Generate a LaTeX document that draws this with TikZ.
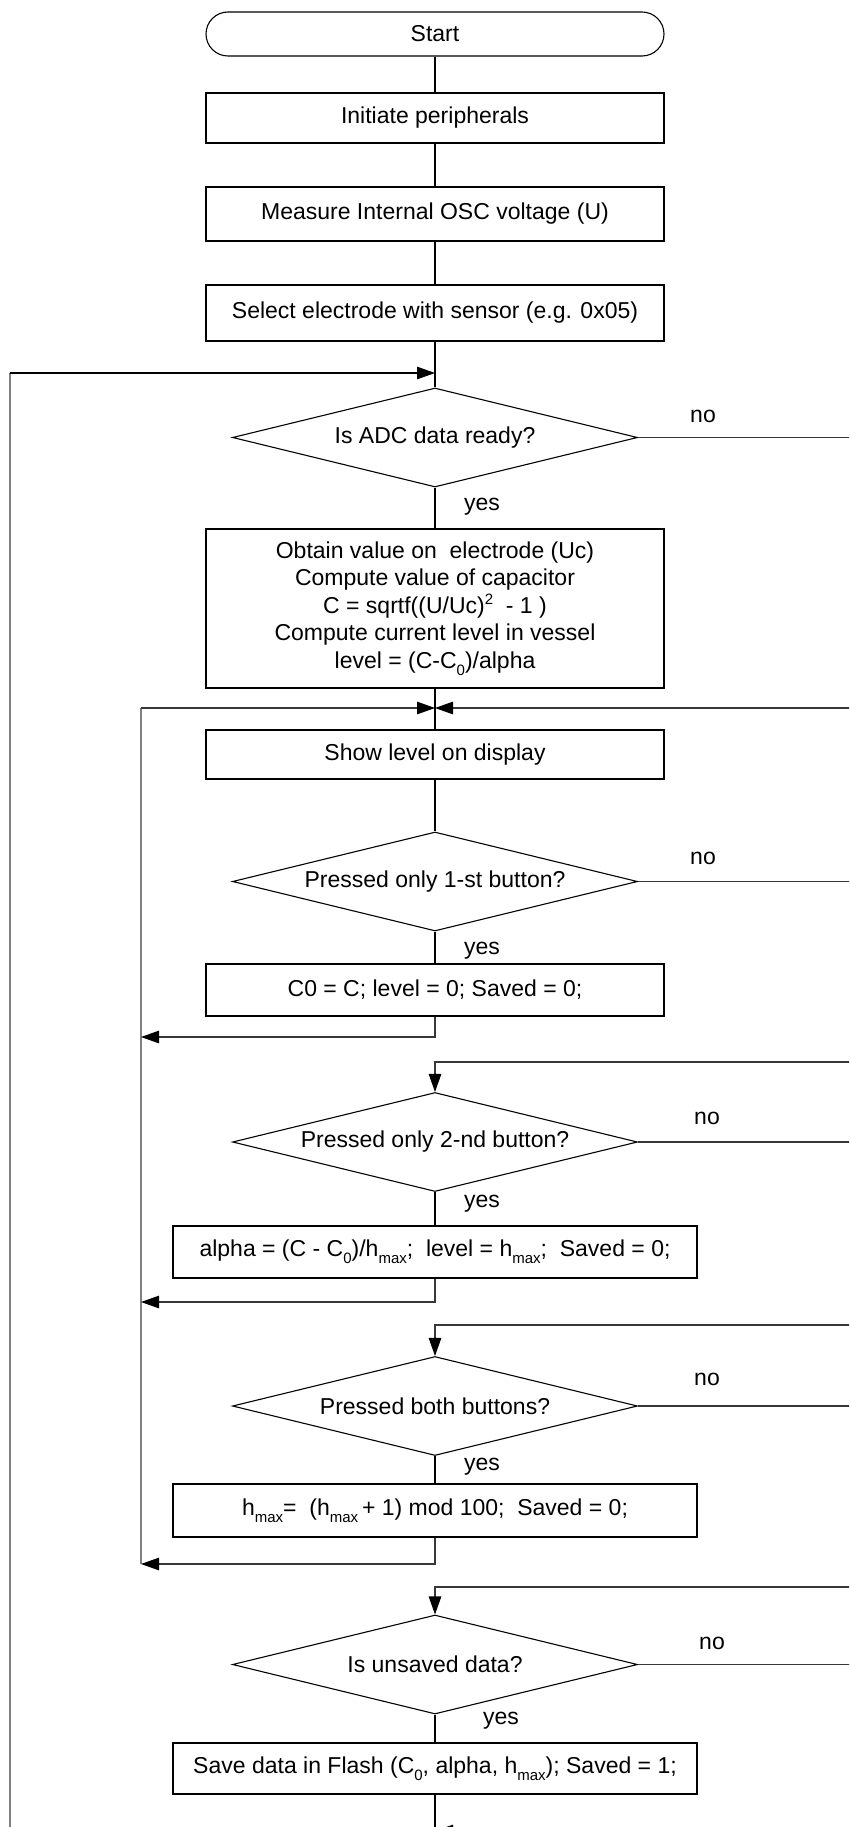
\documentclass[tikz,border=0pt]{standalone}
\usepackage{fontspec}
\setmainfont{Liberation Sans}
\usetikzlibrary{arrows.meta,shapes.geometric}
\definecolor{busgray}{RGB}{128,128,128}
\definecolor{linkgray}{RGB}{55,55,55}
\newcommand{\lsub}[1]{\raisebox{-0.32em}{\fontsize{15}{15}\selectfont #1}}
\newcommand{\lsup}[1]{\raisebox{0.38em}{\fontsize{15}{15}\selectfont #1}}
\begin{document}
\begin{tikzpicture}[x=1pt,y=-1pt,
  font=\fontsize{23}{27.5}\selectfont,
  line width=1.1pt,
  every node/.style={line width=1.1pt},
  proc/.style={draw, rectangle, minimum width=458, minimum height=#1, inner sep=0, align=center},
  wproc/.style={draw, rectangle, minimum width=524, minimum height=#1, inner sep=0, align=center},
  term/.style={draw, rectangle, rounded corners=22, minimum width=458, minimum height=44, inner sep=0},
  decide/.style={draw, diamond, shape aspect=4.09, minimum width=405, minimum height=99, inner sep=0},
  lbl/.style={anchor=base, inner sep=0},
  arr/.style={-{Triangle[length=18pt,width=12.5pt,color=black]}},
  bus/.style={draw=busgray, line width=1.3pt},
  link/.style={draw=linkgray}
]
\useasboundingbox (0,0) rectangle (849,1827);
\clip (0,0) rectangle (849,1827);

% nodes
\node[term] (start) at (435,34) {Start};
\node[proc=50] (init) at (435,118) {Initiate peripherals};
\node[proc=54] (meas) at (435,214) {Measure Internal OSC voltage (U)};
\node[proc=56] (sel) at (435,313) {Select electrode with sensor (e.g. 0x05)};
\node[decide] (d1) at (435,437.5) {Is ADC data ready?};
\node[proc=159] (big) at (435,608.5) {Obtain value on\ \ electrode (Uc)\\Compute value of capacitor\\C = sqrtf((U/Uc)\lsup{2}\ \ - 1 )\\Compute current level in vessel\\level = (C-C\lsub{0})/alpha};
\node[proc=49] (show) at (435,754.5) {Show level on display};
\node[decide] (d2) at (435,881.5) {Pressed only 1-st button?};
\node[proc=52] (c0) at (435,990) {C0 = C; level = 0; Saved = 0;};
\node[decide] (d3) at (435,1142) {Pressed only 2-nd button?};
\node[wproc=52] (alpha) at (435,1252) {alpha = (C - C\lsub{0})/h\lsub{max};\ \ level = h\lsub{max};\ \ Saved = 0;};
\node[decide] (d4) at (435,1406) {Pressed both buttons?};
\node[wproc=53] (hmax) at (435,1510.5) {h\lsub{max}=\ \ (h\lsub{max}\,+ 1) mod 100;\ \ Saved = 0;};
\node[decide] (d5) at (435,1664.5) {Is unsaved data?};
\node[wproc=51] (save) at (435,1768.5) {Save data in Flash (C\lsub{0}, alpha, h\lsub{max}); Saved = 1;};

% labels
\node[lbl] (no1) at (703,422) {no};
\node[lbl] (yes1) at (482,510) {yes};
\node[lbl] (no2) at (703,864) {no};
\node[lbl] (yes2) at (482,954) {yes};
\node[lbl] (no3) at (707,1124) {no};
\node[lbl] (yes3) at (482,1207) {yes};
\node[lbl] (no4) at (707,1385) {no};
\node[lbl] (yes4) at (482,1470) {yes};
\node[lbl] (no5) at (712,1649) {no};
\node[lbl] (yes5) at (501,1724) {yes};

% coordinates
\coordinate (j1) at (435,373);
\coordinate (lt) at (10,373);
\coordinate (lb) at (10,1840);
\coordinate (j2) at (435,708);
\coordinate (bt) at (141,708);
\coordinate (bb) at (141,1564);
\coordinate (m1) at (141,1037);
\coordinate (m2) at (141,1302);
\coordinate (m3) at (141,1564);
\coordinate (r1) at (860,437.5);
\coordinate (r2) at (860,708);
\coordinate (r2b) at (860,881.5);
\coordinate (r3) at (860,1062);
\coordinate (r3b) at (860,1142);
\coordinate (r4) at (860,1325);
\coordinate (r4b) at (860,1406);
\coordinate (r5) at (860,1587);
\coordinate (r5b) at (860,1664.5);
\coordinate (r6) at (860,1831);
\coordinate (j6) at (435,1831);
\coordinate (endc) at (435,1840);

% main flow
\draw (start) -- (init);
\draw (init) -- (meas);
\draw (meas) -- (sel);
\draw (sel) -- (d1);
\draw (d1) -- (big);
\draw (big) -- (show);
\draw (show) -- (d2);
\draw (d2) -- (c0);
\draw (d3) -- (alpha);
\draw (d4) -- (hmax);
\draw (d5) -- (save);
\draw (save) -- (endc);

% outer loop
\draw[bus] (lb) -- (lt);
\draw[arr] (lt) -- (j1);

% inner bus
\draw[bus] (bb) -- (bt);
\draw[arr,link] (bt) -- (j2);
\draw[arr,link] (r2) -- (j2);
\draw[arr,link] (c0.south) |- (m1);
\draw[arr,link] (alpha.south) |- (m2);
\draw[arr,link] (hmax.south) |- (m3);

% no branches
\draw[link] (d1.east) -- (r1);
\draw[link] (d2.east) -- (r2b);
\draw[link] (d3.east) -- (r3b);
\draw[link] (d4.east) -- (r4b);
\draw[link] (d5.east) -- (r5b);

% loops into diamonds
\draw[arr,link] (r3) -| (d3.north);
\draw[arr,link] (r4) -| (d4.north);
\draw[arr,link] (r5) -| (d5.north);
\draw[arr,link] (r6) -- (j6);
\end{tikzpicture}
\end{document}
